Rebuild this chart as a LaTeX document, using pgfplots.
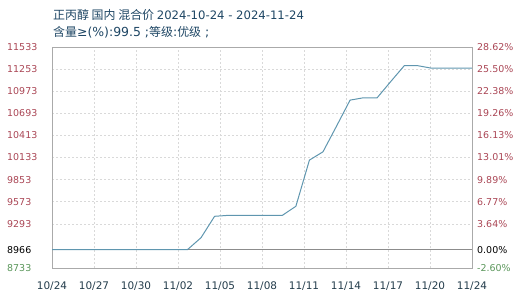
\documentclass[border=0pt]{standalone}
\usepackage{fontspec}
\setmainfont{DejaVu Sans}
\newfontfamily\cjk{Noto Sans CJK SC}
\usepackage{pgfplots}
\pgfplotsset{compat=1.18}
\definecolor{tcol}{RGB}{30,70,100}
\definecolor{redl}{RGB}{170,70,85}
\definecolor{greenl}{RGB}{90,150,90}
\definecolor{linec}{RGB}{95,150,175}
\definecolor{xlab}{RGB}{35,60,75}
\definecolor{framec}{RGB}{170,170,170}
\begin{document}
\begin{tikzpicture}[x=1bp,y=1bp]
\useasboundingbox (0,0) rectangle (517,299);
\node[anchor=base west, inner sep=0, text=tcol] at (53,280) {{\cjk\fontsize{12}{14}\selectfont 正丙醇 国内 混合价 }{\fontsize{11.7}{14}\selectfont 2024-10-24 - 2024-11-24}};
\node[anchor=base west, inner sep=0, text=tcol] at (53,263) {{\cjk\fontsize{12}{14}\selectfont 含量}{\fontsize{12.5}{14}\selectfont ≥(\%):99.5 ;}{\cjk\fontsize{12}{14}\selectfont 等级}{\fontsize{12.5}{14}\selectfont :}{\cjk\fontsize{12}{14}\selectfont 优级}{\fontsize{12.5}{14}\selectfont\ ;}};
\begin{axis}[
  at={(52bp,31bp)}, anchor=south west, scale only axis,
  width=420bp, height=221bp,
  xmin=0, xmax=31, ymin=8733, ymax=11533,
  scaled y ticks=false,
  xtick={0,3.1,6.2,9.3,12.4,15.5,18.6,21.7,24.8,27.9,31},
  xticklabels={10/24,10/27,10/30,11/02,11/05,11/08,11/11,11/14,11/17,11/20,11/24},
  ytick={8733,8966,9293,9573,9853,10133,10413,10693,10973,11253,11533},
  yticklabels={\textcolor{greenl}{8733},\textcolor{black}{8966},\textcolor{redl}{9293},\textcolor{redl}{9573},\textcolor{redl}{9853},\textcolor{redl}{10133},\textcolor{redl}{10413},\textcolor{redl}{10693},\textcolor{redl}{10973},\textcolor{redl}{11253},\textcolor{redl}{11533}},
  grid=major,
  major grid style={dash pattern=on 2bp off 2bp, color=black!15, line width=0.6bp},
  axis line style={framec, line width=0.8bp},
  tick style={draw=none},
  yticklabel style={anchor=west, xshift=-45bp, inner sep=0, font=\fontsize{9.5}{10}\selectfont},
  xticklabel style={anchor=base, yshift=-21bp, inner sep=0, font=\fontsize{10.5}{11}\selectfont, text=xlab},
]
\addplot[black!45, line width=0.8bp] coordinates {(0,8966) (31,8966)};
\addplot[linec, line width=1bp] coordinates {
(0,8966) (1,8966) (2,8966) (3,8966) (4,8966) (5,8966) (6,8966) (7,8966) (8,8966) (9,8966) (10,8966)
(11,9117) (12,9388) (13,9400) (14,9400) (15,9400) (16,9400) (17,9400)
(18,9515) (19,10100) (20,10205) (21,10530) (22,10860) (23,10890) (24,10890)
(25,11095) (26,11296) (27,11296) (28,11265) (29,11265) (30,11265) (31,11265)
};
\end{axis}
\begin{axis}[
  at={(52bp,31bp)}, anchor=south west, scale only axis,
  width=420bp, height=221bp,
  xmin=0, xmax=31, ymin=8733, ymax=11533,
  scaled y ticks=false,
  axis y line*=right, axis x line=none,
  ytick={8733,8966,9293,9573,9853,10133,10413,10693,10973,11253,11533},
  yticklabels={\textcolor{greenl}{-2.60\%},\textcolor{black}{0.00\%},\textcolor{redl}{3.64\%},\textcolor{redl}{6.77\%},\textcolor{redl}{9.89\%},\textcolor{redl}{13.01\%},\textcolor{redl}{16.13\%},\textcolor{redl}{19.26\%},\textcolor{redl}{22.38\%},\textcolor{redl}{25.50\%},\textcolor{redl}{28.62\%}},
  axis line style={framec, line width=0.8bp},
  tick style={draw=none},
  yticklabel style={anchor=west, xshift=5bp, inner sep=0, font=\fontsize{9.5}{10}\selectfont},
]
\addplot[draw=none] coordinates {(0,8966)};
\end{axis}
\end{tikzpicture}
\end{document}
